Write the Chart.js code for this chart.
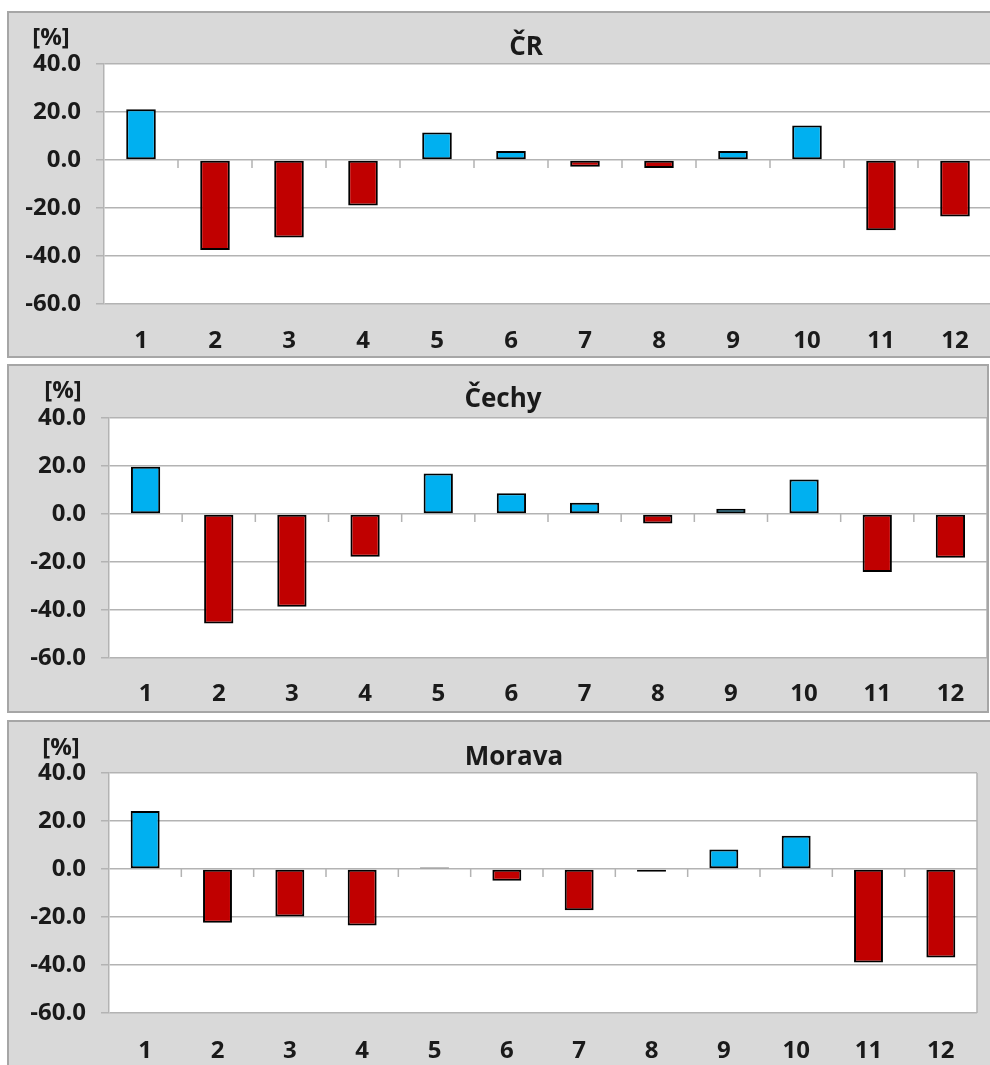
<!DOCTYPE html>
<html lang="cs">
<head>
<meta charset="UTF-8">
<title>ČR, Čechy, Morava</title>
<script src="https://cdn.jsdelivr.net/npm/chart.js@4.4.0/dist/chart.umd.min.js"></script>
<style>
  html, body { margin: 0; width: 990px; height: 1065px; overflow: hidden; background: #fff; font-family: "Open Sans", sans-serif; }
  .panel { position: absolute; background: #d9d9d9; border: 2px solid #a6a6a6; overflow: hidden; }
  .panel canvas { position: absolute; left: 0; top: 0; }
  .lbl { position: absolute; font-weight: bold; color: #1a1a1a; transform: translate(-50%, -50%); white-space: nowrap; line-height: 1; }
  .unit { font-size: 24px; }
  .ttl { font-size: 26px; }
</style>
</head>
<body>

<div class="panel" style="left:7px; top:11px; width:1000px; height:343px;"><canvas id="cr" width="996" height="343"></canvas></div>
<div class="panel" style="left:7px; top:364px; width:978px; height:345px;"><canvas id="cechy" width="978" height="345"></canvas></div>
<div class="panel" style="left:7px; top:720px; width:1000px; height:345px;"><canvas id="morava" width="996" height="345"></canvas></div>

<div class="lbl unit" style="left:51px; top:36px;">[%]</div>
<div class="lbl ttl" style="left:526px; top:45px;">ČR</div>
<div class="lbl unit" style="left:63px; top:389px;">[%]</div>
<div class="lbl ttl" style="left:503px; top:397px;">Čechy</div>
<div class="lbl unit" style="left:61px; top:746px;">[%]</div>
<div class="lbl ttl" style="left:514px; top:755px;">Morava</div>

<script>
// months on the x axis
const months = ['1', '2', '3', '4', '5', '6', '7', '8', '9', '10', '11', '12'];
// deviations in %
const crValues = [21.1, -37.5, -32.3, -19.0, 11.5, 3.7, -2.8, -3.3, 3.7, 14.4, -29.3, -23.5];
const cechyValues = [19.7, -45.6, -38.6, -17.8, 16.9, 8.6, 4.7, -4.0, 2.2, 14.4, -24.2, -18.2];
const moravaValues = [24.2, -22.4, -19.8, -23.5, 0.6, -4.9, -17.2, -1.1, 8.1, 13.9, -39.0, -36.9];
// y axis
const yMin = -60;
const yMax = 40;
const yStep = 20;

const posColor = '#00b0f0';
const negColor = '#c00000';
const gridColor = '#b3b3b3';
const textColor = '#1a1a1a';
const tickFont = { family: '"Open Sans", sans-serif', size: 24, weight: 'bold' };

// white plot area, right border and the small ticks on the zero line
const plotFrame = {
  id: 'plotFrame',
  beforeDraw(chart) {
    const a = chart.chartArea, c = chart.ctx;
    c.save();
    c.fillStyle = '#fff';
    c.fillRect(a.left, a.top, a.right - a.left, a.bottom - a.top);
    c.restore();
  },
  afterDatasetsDraw(chart) {
    const a = chart.chartArea, c = chart.ctx;
    const x = chart.scales.x, y = chart.scales.y;
    const y0 = y.getPixelForValue(0);
    c.save();
    c.strokeStyle = gridColor;
    c.lineWidth = 1.5;
    c.beginPath();
    c.moveTo(a.right, a.top);
    c.lineTo(a.right, a.bottom);
    for (let i = 1; i < months.length; i++) {
      const xb = (x.getPixelForValue(i - 1) + x.getPixelForValue(i)) / 2;
      c.moveTo(xb, y0);
      c.lineTo(xb, y0 + 8);
    }
    c.stroke();
    c.restore();
  }
};

function makeChart(id, values, area) {
  new Chart(document.getElementById(id), {
    type: 'bar',
    data: {
      labels: months,
      datasets: [{
        data: values,
        backgroundColor: ctx => ctx.raw >= 0 ? posColor : negColor,
        borderColor: '#000',
        borderWidth: 2,
        borderSkipped: false,
        categoryPercentage: 1,
        barPercentage: 0.4
      }]
    },
    options: {
      responsive: false,
      animation: false,
      layout: { padding: { left: 0, top: area.top, right: area.right, bottom: 0 } },
      plugins: { legend: { display: false }, tooltip: { enabled: false } },
      scales: {
        x: {
          grid: { display: false, drawTicks: false },
          border: { display: false },
          ticks: { font: tickFont, color: textColor, padding: area.lp, maxRotation: 0, autoSkip: false },
          afterFit: s => { s.height = area.xh; }
        },
        y: {
          min: yMin,
          max: yMax,
          ticks: { stepSize: yStep, font: tickFont, color: textColor, padding: 15, callback: v => v.toFixed(1) },
          grid: { color: gridColor, lineWidth: 1.5, tickLength: 8 },
          border: { color: gridColor, width: 1.5 },
          afterFit: s => { s.width = area.left; }
        }
      }
    },
    plugins: [plotFrame]
  });
}

makeChart('cr', crValues, { left: 95, top: 51, right: 13, xh: 52, lp: 23 });
makeChart('cechy', cechyValues, { left: 100, top: 52, right: 0, xh: 53, lp: 22 });
makeChart('morava', moravaValues, { left: 100, top: 51, right: 28, xh: 54, lp: 24 });
</script>
</body>
</html>
